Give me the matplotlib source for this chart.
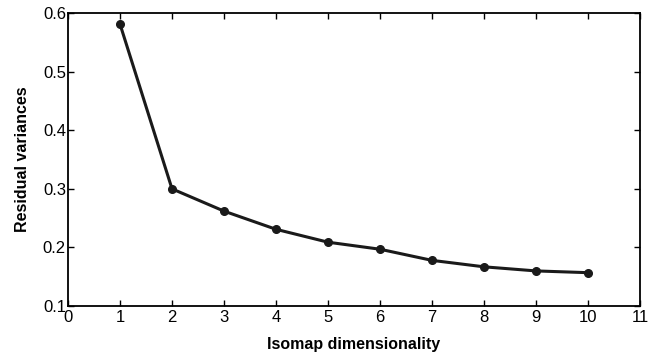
import matplotlib.pyplot as plt

plt.rcParams["font.family"] = ["Liberation Sans", "DejaVu Sans"]

dims = [1, 2, 3, 4, 5, 6, 7, 8, 9, 10]
residual = [0.581, 0.300, 0.262, 0.231, 0.209, 0.197, 0.178, 0.167, 0.160, 0.157]

fig = plt.figure(figsize=(6.49, 3.58), dpi=100)
ax = fig.add_axes([0.1048, 0.145, 0.8813, 0.8187])
ax.plot(dims, residual, color="#1a1a1a", linewidth=2.2, marker="o", markersize=5.5)

ax.set_xlim(0, 11)
ax.set_ylim(0.1, 0.6)
ax.set_xticks(range(0, 12))
ax.set_yticks([0.1, 0.2, 0.3, 0.4, 0.5, 0.6])
ax.set_yticklabels(["0.1", "0.2", "0.3", "0.4", "0.5", "0.6"])
ax.tick_params(direction="in", top=True, right=True, length=4.5, width=1,
               labelsize=12)
ax.tick_params(axis="x", pad=2.5)
ax.tick_params(axis="y", pad=1.5)
for s in ax.spines.values():
    s.set_linewidth(1.3)

ax.set_xlabel("Isomap dimensionality", fontsize=11.5, fontweight="bold", labelpad=9)
ax.set_ylabel("Residual variances", fontsize=11.5, fontweight="bold", labelpad=9)

fig.savefig("out.png", dpi=100)
